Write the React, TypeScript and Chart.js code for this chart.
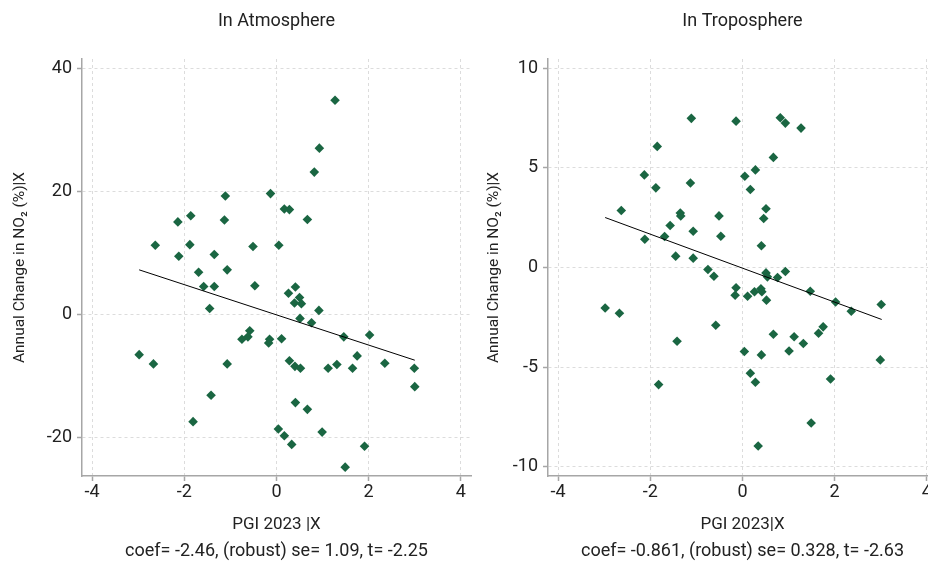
import React, { useEffect, useRef } from 'react';
import { Chart, registerables } from 'chart.js';
Chart.register(...registerables);

const FONT = "Roboto, 'Liberation Sans', sans-serif";
const TEXT = '#222222';
const GREEN = '#1a6642';
const GRID = '#dcdcdc';
const AXIS = '#a6a6a6';

const xTicks = [-4, -2, 0, 2, 4];
const atmYTicks = [-20, 0, 20, 40];
const tropYTicks = [-10, -5, 0, 5, 10];

const atmX = [-1.11, -0.13, -1.86, -2.14, -1.13, -2.63, -1.88, -2.12, -1.35, -0.51, 0.05, 1.27, 0.93, 0.82, 0.17, 0.28, 0.67, -1.69, -1.07, -1.58, -1.35, -0.47, -1.45, -0.58, -0.75, -0.62, -0.15, -0.17, 0.11, -2.98, -2.67, -1.07, -1.42, -1.81, 0.04, 0.41, 0.26, 0.5, 0.39, 0.54, 0.92, 0.51, 0.76, 1.46, 2.02, 0.28, 0.4, 0.52, 1.12, 1.31, 1.65, 1.75, 2.35, 2.99, 3.0, 0.41, 0.67, 0.17, 0.33, 0.99, 1.91, 1.49];
const atmY = [19.2, 19.6, 16.0, 15.0, 15.3, 11.2, 11.3, 9.4, 9.7, 11.0, 11.2, 34.8, 27.0, 23.1, 17.1, 17.0, 15.4, 6.8, 7.2, 4.5, 4.5, 4.6, 0.9, -2.7, -4.1, -3.7, -4.1, -4.7, -4.0, -6.6, -8.1, -8.1, -13.2, -17.5, -18.7, 4.4, 3.4, 2.7, 1.8, 1.7, 0.6, -0.7, -1.4, -3.7, -3.4, -7.6, -8.5, -8.8, -8.8, -8.2, -8.8, -6.8, -8.0, -8.8, -11.8, -14.4, -15.5, -19.8, -21.2, -19.2, -21.5, -24.9];

const tropX = [-1.11, -0.14, -1.85, -2.13, -1.88, -1.13, 0.05, -2.63, -1.35, -1.34, -0.51, -1.57, -1.07, -1.69, -0.47, -2.12, -1.45, -1.07, 0.82, 0.93, 1.27, 0.67, 0.28, 0.17, 0.51, 0.46, 0.41, -0.75, -0.62, -0.14, -0.16, -2.98, -2.67, -0.58, -1.42, 0.04, -1.82, 0.51, 0.54, 0.76, 0.93, 1.47, 2.02, 2.36, 3.01, 0.11, 0.26, 0.4, 0.42, 0.52, 0.67, 1.12, 1.32, 1.65, 1.75, 0.41, 1.01, 2.99, 0.17, 0.28, 1.91, 1.49, 0.34];
const tropY = [7.49, 7.35, 6.08, 4.65, 4.0, 4.24, 4.58, 2.86, 2.74, 2.59, 2.59, 2.11, 1.82, 1.56, 1.57, 1.42, 0.57, 0.47, 7.52, 7.25, 7.0, 5.53, 4.9, 3.92, 2.95, 2.46, 1.09, -0.1, -0.44, -1.02, -1.39, -2.03, -2.3, -2.9, -3.7, -4.22, -5.88, -0.27, -0.47, -0.5, -0.2, -1.19, -1.73, -2.2, -1.86, -1.44, -1.22, -1.07, -1.22, -1.64, -3.35, -3.48, -3.82, -3.3, -2.98, -4.39, -4.19, -4.64, -5.31, -5.76, -5.6, -7.81, -8.96];

const atmFitX = [-2.98, 3.0];
const atmFitY = [7.2, -7.5];
const tropFitX = [-2.98, 3.02];
const tropFitY = [2.51, -2.61];

const panels = [
  {
    title: 'In Atmosphere',
    yTitle: 'Annual Change in NO\u2082 (%)|X',
    xTitle: 'PGI 2023 |X',
    stats: 'coef= -2.46, (robust) se= 1.09, t= -2.25',
    xs: atmX, ys: atmY, fitX: atmFitX, fitY: atmFitY,
    yTicks: atmYTicks, yMin: -26.34, yMax: 41.5,
    left: 0, yTitlePad: 10.7,
  },
  {
    title: 'In Troposphere',
    yTitle: 'Annual Change in NO\u2082 (%)|X',
    xTitle: 'PGI 2023|X',
    stats: 'coef= -0.861, (robust) se= 0.328, t= -2.63',
    xs: tropX, ys: tropY, fitX: tropFitX, fitY: tropFitY,
    yTicks: tropYTicks, yMin: -10.47, yMax: 10.47,
    left: 466, yTitlePad: 18.7,
  },
];

function makeConfig(p: any): any {
  const font = (size: number) => ({ family: FONT, size, weight: 'normal', lineHeight: 1.2 });
  return {
    type: 'scatter',
    data: {
      datasets: [
        {
          type: 'line',
          data: p.fitX.map((x: number, i: number) => ({ x, y: p.fitY[i] })),
          borderColor: '#000000',
          borderWidth: 1,
          pointRadius: 0,
          fill: false,
        },
        {
          type: 'scatter',
          data: p.xs.map((x: number, i: number) => ({ x, y: p.ys[i] })),
          pointStyle: 'rectRot',
          pointRadius: 4.8,
          backgroundColor: GREEN,
          borderColor: GREEN,
          borderWidth: 0,
        },
      ],
    },
    options: {
      animation: false,
      responsive: false,
      devicePixelRatio: 1,
      layout: { padding: { left: 0, right: 9, top: 0, bottom: 0 } },
      plugins: {
        legend: { display: false },
        tooltip: { enabled: false },
        title: {
          display: true, text: p.title, fullSize: false, color: TEXT,
          font: font(18), padding: { top: 11, bottom: 26.4 },
        },
        subtitle: {
          display: true, position: 'bottom', text: p.stats, fullSize: false, color: TEXT,
          font: font(18), padding: { top: 0, bottom: 0 },
        },
      },
      scales: {
        x: {
          type: 'linear', min: -4.22, max: 4.22,
          afterBuildTicks: (ax: any) => { ax.ticks = xTicks.map((v) => ({ value: v })); },
          afterFit: (s: any) => { s.height = 64.4; },
          grid: { color: GRID, lineWidth: 1, tickColor: AXIS, tickLength: 5, tickWidth: 1.5 },
          border: { display: true, color: AXIS, width: 1.5, dash: [3, 3] },
          ticks: { color: TEXT, font: font(18), padding: 1, maxRotation: 0 },
          title: { display: true, text: p.xTitle, color: TEXT, font: font(17), padding: { top: 0, bottom: 5 } },
        },
        y: {
          type: 'linear', min: p.yMin, max: p.yMax,
          afterBuildTicks: (ax: any) => { ax.ticks = p.yTicks.map((v: number) => ({ value: v })); },
          afterFit: (s: any) => { s.width = 82; },
          grid: { color: GRID, lineWidth: 1, tickColor: AXIS, tickLength: 5, tickWidth: 1.5 },
          border: { display: true, color: AXIS, width: 1.5, dash: [3, 3] },
          ticks: { color: TEXT, font: font(18), padding: 5 },
          title: { display: true, text: p.yTitle, color: TEXT, font: font(15.5), padding: { top: p.yTitlePad, bottom: 0 } },
        },
      },
    },
  };
}

function Panel({ p }: { p: any }) {
  const ref = useRef<HTMLCanvasElement | null>(null);
  useEffect(() => {
    if (!ref.current) return;
    const chart = new Chart(ref.current, makeConfig(p));
    return () => chart.destroy();
  }, [p]);
  return (
    <canvas
      ref={ref}
      width={480}
      height={562}
      style={{ position: 'absolute', left: p.left, top: 0, width: 480, height: 562 }}
    />
  );
}

export default function App() {
  return (
    <div style={{ position: 'fixed', left: 0, top: 0, width: 928, height: 562, overflow: 'hidden', background: '#ffffff' }}>
      {panels.map((p) => (
        <Panel key={p.title} p={p} />
      ))}
    </div>
  );
}
